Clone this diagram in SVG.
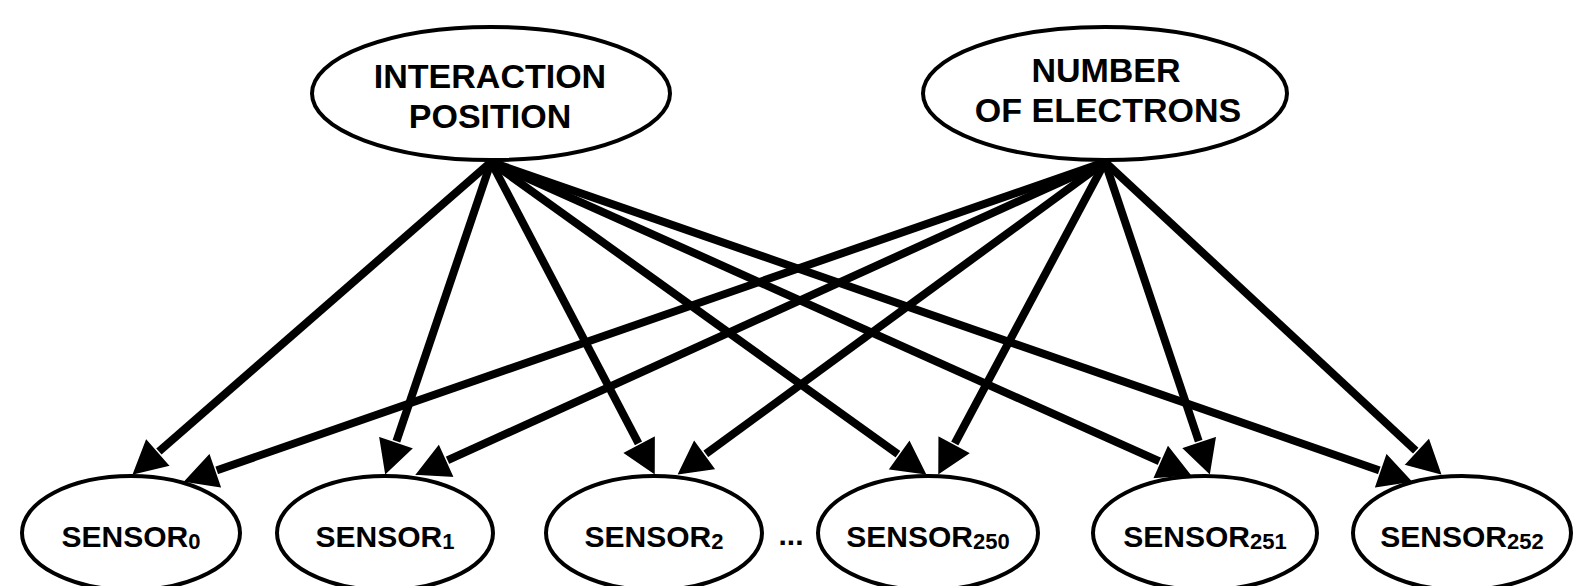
<svg xmlns="http://www.w3.org/2000/svg" width="1573" height="586" viewBox="0 0 1573 586">
  <style>
    .node ellipse { fill: #fff; stroke: #000; stroke-width: 4; }
    .label { font-family: "Liberation Sans", Arial, sans-serif; font-weight: bold; fill: #000; text-anchor: middle; }
    .big { font-size: 34px; }
    .small { font-size: 30px; }
    .sub { font-size: 22px; }
    .edge { stroke: #000; stroke-width: 8; fill: none; marker-end: url(#head); }
  </style>
  <defs>
    <!-- filled arrowhead; origin sits 31px before the tip so the thick shaft ends inside it -->
    <marker id="head" markerUnits="userSpaceOnUse" orient="auto" viewBox="-7 -21 40 42" refX="0" refY="0" markerWidth="40" markerHeight="42">
      <path d="M31,0 L-5,-19 L-5,19 Z" fill="#000" stroke="#fff" stroke-width="1.5" stroke-linejoin="miter"/>
    </marker>
  </defs>

  <rect width="1573" height="586" fill="#fff"/>

  <g id="connectors">
    <!-- from INTERACTION POSITION -->
    <line class="edge" x1="491" y1="162" x2="154.6" y2="455.3"/>
    <line class="edge" x1="491" y1="162" x2="394.6" y2="446.6"/>
    <line class="edge" x1="491" y1="162" x2="641.1" y2="448.4"/>
    <line class="edge" x1="491" y1="162" x2="902.6" y2="457.5"/>
    <line class="edge" x1="491" y1="162" x2="1164.6" y2="463.7"/>
    <line class="edge" x1="491" y1="162" x2="1384.7" y2="472.2"/>
    <!-- from NUMBER OF ELECTRONS -->
    <line class="edge" x1="1105" y1="162" x2="211.3" y2="472.2"/>
    <line class="edge" x1="1105" y1="162" x2="442.3" y2="462.6"/>
    <line class="edge" x1="1105" y1="162" x2="701.2" y2="457.3"/>
    <line class="edge" x1="1105" y1="162" x2="952.1" y2="448.5"/>
    <line class="edge" x1="1105" y1="162" x2="1200.5" y2="446.6"/>
    <line class="edge" x1="1105" y1="162" x2="1420" y2="454.6"/>
  </g>

  <g id="interaction-position" class="node">
    <ellipse cx="491" cy="93.5" rx="179" ry="66.5"/>
    <text class="label big" x="490" y="88">INTERACTION</text>
    <text class="label big" x="490" y="128">POSITION</text>
  </g>

  <g id="number-of-electrons" class="node">
    <ellipse cx="1105" cy="93.5" rx="182" ry="66.5"/>
    <text class="label big" x="1106" y="82">NUMBER</text>
    <text class="label big" x="1108" y="122">OF ELECTRONS</text>
  </g>

  <g id="sensor-0" class="node">
    <ellipse cx="131" cy="533" rx="109" ry="57"/>
    <text class="label small" x="131" y="547">SENSOR<tspan class="sub" dy="2">0</tspan></text>
  </g>

  <g id="sensor-1" class="node">
    <ellipse cx="385" cy="533" rx="108" ry="57"/>
    <text class="label small" x="385" y="547">SENSOR<tspan class="sub" dy="2">1</tspan></text>
  </g>

  <g id="sensor-2" class="node">
    <ellipse cx="654" cy="533" rx="108" ry="57"/>
    <text class="label small" x="654" y="547">SENSOR<tspan class="sub" dy="2">2</tspan></text>
  </g>

  <text id="ellipsis" class="label small" x="791" y="545">...</text>

  <g id="sensor-250" class="node">
    <ellipse cx="928" cy="533" rx="110" ry="57"/>
    <text class="label small" x="928" y="547">SENSOR<tspan class="sub" dy="2">250</tspan></text>
  </g>

  <g id="sensor-251" class="node">
    <ellipse cx="1205" cy="533" rx="112" ry="57"/>
    <text class="label small" x="1205" y="547">SENSOR<tspan class="sub" dy="2">251</tspan></text>
  </g>

  <g id="sensor-252" class="node">
    <ellipse cx="1462" cy="533" rx="109" ry="57"/>
    <text class="label small" x="1462" y="547">SENSOR<tspan class="sub" dy="2">252</tspan></text>
  </g>
</svg>
